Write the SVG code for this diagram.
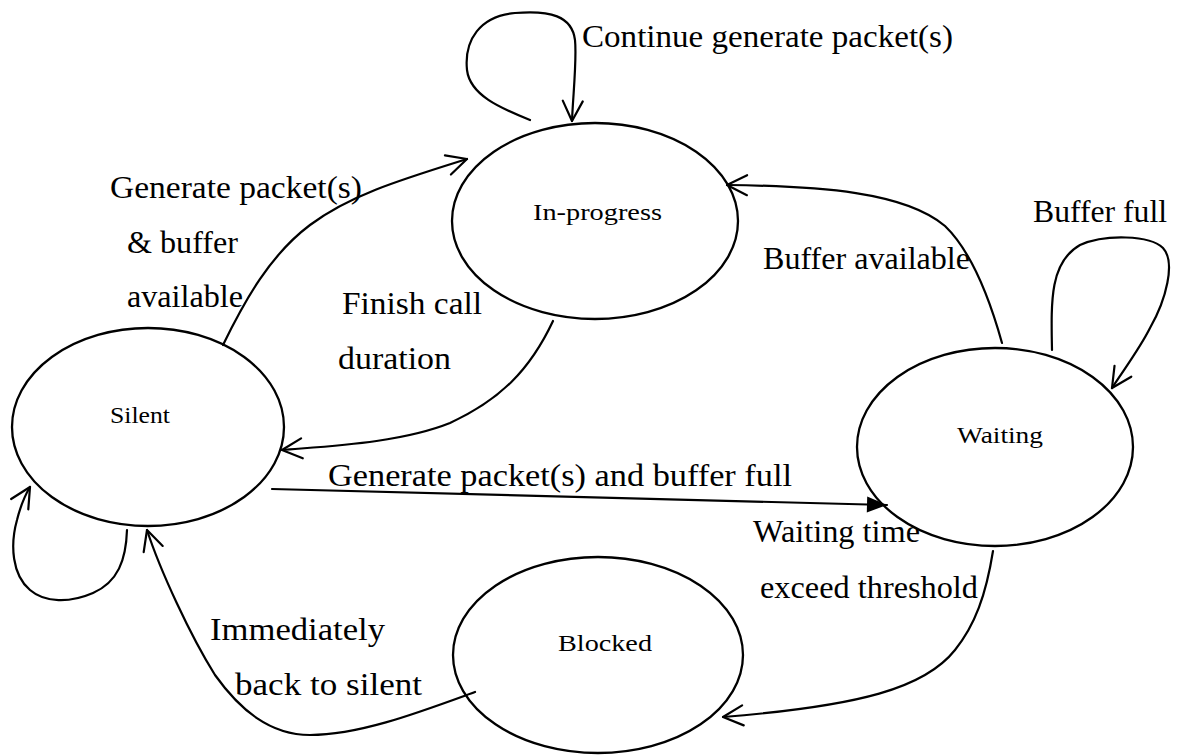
<svg xmlns="http://www.w3.org/2000/svg" width="1179" height="755" viewBox="0 0 1179 755">
  <style>
    .state { fill: none; stroke: #000; stroke-width: 2.3; }
    .edge { fill: none; stroke: #000; stroke-width: 2.2; stroke-linecap: round; }
    .open { marker-end: url(#open-arrow); }
    .solid { marker-end: url(#solid-arrow); }
    .node-label { font-family: "Liberation Serif", "DejaVu Serif", serif; font-size: 24px; fill: #000; }
    .edge-label { font-family: "Liberation Serif", "DejaVu Serif", serif; font-size: 31px; fill: #000; }
  </style>
  <defs>
    <!-- open V-shaped arrowhead used by most transitions -->
    <marker id="open-arrow" markerUnits="userSpaceOnUse" viewBox="0 0 24 24" refX="22" refY="12" markerWidth="24" markerHeight="24" orient="auto">
      <path d="M2,2 L22,12 L2,22" fill="none" stroke="#000" stroke-width="2.2" stroke-linecap="round" stroke-linejoin="round"/>
    </marker>
    <!-- small filled arrowhead -->
    <marker id="solid-arrow" markerUnits="userSpaceOnUse" viewBox="0 0 22 18" refX="21" refY="9" markerWidth="22" markerHeight="18" orient="auto">
      <path d="M1,1 L21,9 L1,17 Z" fill="#000"/>
    </marker>
  </defs>

  <rect width="1179" height="755" fill="#fff"/>

  <!-- states -->
  <g id="node-in-progress">
    <ellipse class="state" cx="595" cy="221" rx="143" ry="98"/>
    <text class="node-label" x="533" y="220" textLength="129" lengthAdjust="spacingAndGlyphs">In-progress</text>
  </g>
  <g id="node-silent">
    <ellipse class="state" cx="148" cy="427" rx="136" ry="99"/>
    <text class="node-label" x="110" y="423" textLength="60" lengthAdjust="spacingAndGlyphs">Silent</text>
  </g>
  <g id="node-waiting">
    <ellipse class="state" cx="995" cy="447" rx="138" ry="99"/>
    <text class="node-label" x="957" y="443" textLength="86" lengthAdjust="spacingAndGlyphs">Waiting</text>
  </g>
  <g id="node-blocked">
    <ellipse class="state" cx="598" cy="655" rx="145" ry="98"/>
    <text class="node-label" x="558" y="651" textLength="94" lengthAdjust="spacingAndGlyphs">Blocked</text>
  </g>

  <!-- transitions -->
  <g id="connectors">
    <!-- In-progress self loop -->
    <path class="edge open" d="M530,120 C500,108 470,95 467,70 C464,40 480,16 515,13 C550,10 572,16 575,40 C577,60 573,95 572,121"/>
    <!-- Silent to In-progress -->
    <path class="edge open" d="M223,345 C245,300 270,255 310,225 C350,195 400,180 467,159"/>
    <!-- In-progress to Silent -->
    <path class="edge open" d="M553,321 C530,370 500,400 450,423 C400,443 330,446 282,450"/>
    <!-- Silent to Waiting -->
    <path class="edge solid" d="M272,489 L887,505"/>
    <!-- Waiting to In-progress -->
    <path class="edge open" d="M1002,343 C990,300 972,252 945,226 C905,192 820,186 727,185"/>
    <!-- Waiting self loop -->
    <path class="edge open" d="M1052,350 C1051,300 1050,262 1080,245 C1105,234 1150,235 1163,248 C1176,262 1166,300 1150,328 C1140,348 1125,368 1112,388"/>
    <!-- Waiting to Blocked -->
    <path class="edge open" d="M993,551 C986,595 975,625 955,650 C925,688 860,706 723,717"/>
    <!-- Blocked to Silent -->
    <path class="edge open" d="M475,692 C420,712 360,735 310,735 C270,735 240,710 215,675 C190,635 160,570 147,530"/>
    <!-- Silent self loop -->
    <path class="edge open" d="M127,530 C126,560 118,582 93,593 C70,603 45,603 30,590 C12,575 10,545 17,520 C20,508 24,497 30,487"/>
  </g>

  <!-- transition labels -->
  <g id="edge-labels">
    <text class="edge-label" x="582" y="47" textLength="371" lengthAdjust="spacingAndGlyphs">Continue generate packet(s)</text>
    <text class="edge-label" x="110" y="198" textLength="252" lengthAdjust="spacingAndGlyphs">Generate packet(s)</text>
    <text class="edge-label" x="127" y="253" textLength="111" lengthAdjust="spacingAndGlyphs">&amp; buffer</text>
    <text class="edge-label" x="127" y="307" textLength="116" lengthAdjust="spacingAndGlyphs">available</text>
    <text class="edge-label" x="342" y="314" textLength="140" lengthAdjust="spacingAndGlyphs">Finish call</text>
    <text class="edge-label" x="338" y="369" textLength="113" lengthAdjust="spacingAndGlyphs">duration</text>
    <text class="edge-label" x="328" y="486" textLength="464" lengthAdjust="spacingAndGlyphs">Generate packet(s) and buffer full</text>
    <text class="edge-label" x="763" y="269" textLength="207" lengthAdjust="spacingAndGlyphs">Buffer available</text>
    <text class="edge-label" x="1033" y="222" textLength="134" lengthAdjust="spacingAndGlyphs">Buffer full</text>
    <text class="edge-label" x="753" y="542" textLength="167" lengthAdjust="spacingAndGlyphs">Waiting time</text>
    <text class="edge-label" x="760" y="598" textLength="218" lengthAdjust="spacingAndGlyphs">exceed threshold</text>
    <text class="edge-label" x="210" y="640" textLength="175" lengthAdjust="spacingAndGlyphs">Immediately</text>
    <text class="edge-label" x="235" y="695" textLength="187" lengthAdjust="spacingAndGlyphs">back to silent</text>
  </g>
</svg>
